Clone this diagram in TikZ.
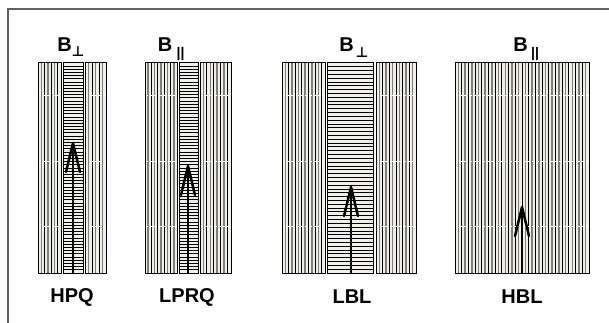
\documentclass[tikz,border=0pt]{standalone}
\usepackage{fontspec}
\setmainfont{Liberation Sans}
\newfontfamily\symfont{DejaVu Sans}
\usetikzlibrary{calc}
\definecolor{stripbg}{HTML}{F0F0E8}
\definecolor{stripgray}{HTML}{7E7E76}
\definecolor{framegray}{HTML}{606060}
\tikzset{
  framec/.style={draw=framegray, line width=1.2pt},
  border/.style={draw=black, line width=1pt},
  blackline/.style={draw=black, line width=0.9pt},
  grayline/.style={draw=stripgray, line width=1.5pt},
  hline/.style={draw=black, line width=1pt},
  whitedash/.style={draw=white, line width=1pt, dash pattern=on 3pt off 1.5pt},
  arrstem/.style={draw=black, line width=2pt},
  arrhead/.style={draw=black, line width=2.5pt, line join=round, line cap=round},
  toplab/.style={font=\bfseries\fontsize{20}{20}\selectfont, inner sep=0pt},
  perplab/.style={font=\symfont\bfseries\fontsize{14}{14}\selectfont, inner sep=0pt},
  parlab/.style={font=\bfseries\fontsize{14}{14}\selectfont, inner sep=0pt},
  botlab/.style={font=\bfseries\fontsize{20}{20}\selectfont, inner sep=0pt},
}
% vertical-striped strip: x1 x2 y1 y2
\newcommand\myvstrip[4]{%
  \fill[stripbg] (#1,#3) rectangle (#2,#4);
  \pgfmathtruncatemacro\mynn{round((#2-#1)/3.33)}%
  \pgfmathtruncatemacro\mynm{\mynn-1}%
  \pgfmathsetmacro\mydd{(#2-#1)/\mynn}%
  \foreach \i in {1,...,\mynm}{%
    \pgfmathsetmacro\myx{#1+\i*\mydd}%
    \ifodd\i
      \draw[grayline] (\myx,#3) -- (\myx,#4);
    \else
      \draw[blackline] (\myx,#3) -- (\myx,#4);
    \fi
  }%
  \foreach \o in {33,98,163}{%
    \draw[whitedash] (#1,#3+\o) -- (#2,#3+\o);
  }%
  \draw[border] (#1,#3) rectangle (#2,#4);
}
% horizontal-lined strip: x1 x2 y1 y2 spacing
\newcommand\myhstrip[5]{%
  \fill[stripbg] (#1,#3) rectangle (#2,#4);
  \pgfmathtruncatemacro\mynn{round((#4-#3)/#5)}%
  \pgfmathtruncatemacro\mynm{\mynn-1}%
  \pgfmathsetmacro\mydd{(#4-#3)/\mynn}%
  \foreach \i in {1,...,\mynm}{%
    \pgfmathsetmacro\myy{#3+\i*\mydd}%
    \draw[hline] (#1,\myy) -- (#2,\myy);
  }%
  \draw[border] (#1,#3) rectangle (#2,#4);
}
\begin{document}
\begin{tikzpicture}[x=1pt,y=-1pt]
\useasboundingbox (0,0) rectangle (609,323);
\fill[white] (0,0) rectangle (609,323);
\draw[framec] (8,323) -- (8,9) -- (609,9);

% HPQ
\myvstrip{38}{61}{63}{273}
\myhstrip{63}{83}{63}{273}{3.2}
\myvstrip{85}{106}{63}{273}
% LPRQ
\myvstrip{145}{177}{63}{273}
\myhstrip{179}{198}{63}{273}{3.2}
\myvstrip{200}{231}{63}{273}
% LBL
\myvstrip{282}{325}{63}{273}
\myhstrip{327}{373}{63}{273}{3.8}
\myvstrip{376}{416}{63}{273}
% HBL
\myvstrip{455}{589}{63}{273}

% arrows
\coordinate (hpqbase) at (73,273);  \coordinate (hpqtip) at (73,143);
\coordinate (lprqbase) at (188,273); \coordinate (lprqtip) at (188,166);
\coordinate (lblbase) at (351,273); \coordinate (lbltip) at (351,187);
\coordinate (hblbase) at (522,273); \coordinate (hbltip) at (522,207);
\foreach \a in {hpq,lprq,lbl,hbl}{
  \draw[arrstem] (\a base) -- ($(\a tip)+(0,2)$);
  \draw[arrhead] ($(\a tip)+(-7,29)$) -- (\a tip) -- ($(\a tip)+(7,29)$);
}

% top labels
\node[toplab] (hpqB) at (64.5,44.5) {B};
\node[perplab] (hpqS) at (78,52) {⊥};
\node[toplab] (lprqB) at (165,44.5) {B};
\node[parlab] (lprqS) at (180.5,54) {||};
\node[toplab] (lblB) at (346.5,44.5) {B};
\node[perplab] (lblS) at (362,52.5) {⊥};
\node[toplab] (hblB) at (520.5,44.5) {B};
\node[parlab] (hblS) at (535,54) {||};

% bottom labels
\node[botlab] (hpq) at (72,297) {HPQ};
\node[botlab] (lprq) at (187,297) {LPRQ};
\node[botlab] (lbl) at (352,297) {LBL};
\node[botlab] (hbl) at (522,297) {HBL};
\end{tikzpicture}
\end{document}
